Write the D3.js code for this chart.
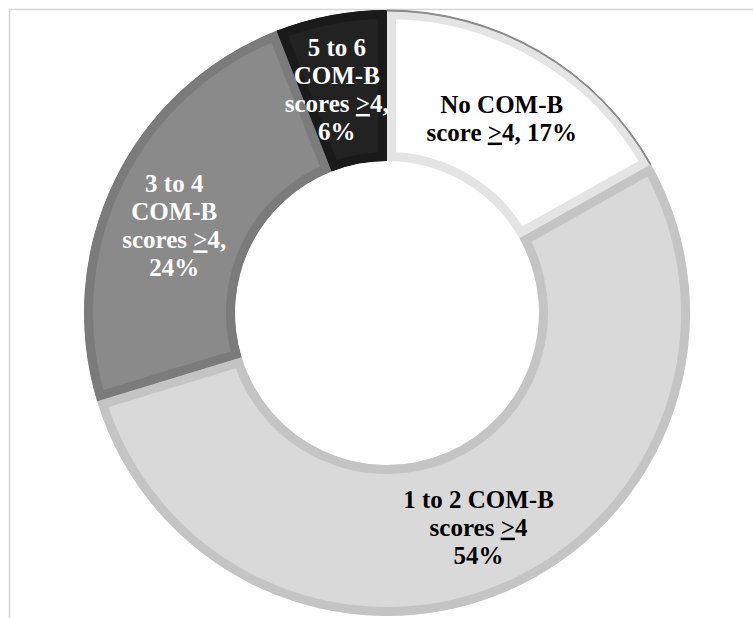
<!DOCTYPE html>
<html>
<head>
<meta charset="utf-8">
<script src="https://cdn.jsdelivr.net/npm/d3@7"></script>
<style>
  body { margin: 0; background: #fff; }
  svg { display: block; }
</style>
</head>
<body>
<script>
var width = 753, height = 618;

// data
var categories = ["No COM-B score >=4", "1 to 2 COM-B scores >=4", "3 to 4 COM-B scores >=4", "5 to 6 COM-B scores >=4"];
var values = [17, 54, 24, 6];
var labelLines = [
	["No COM-B", "score ≥4, 17%"],
	["1 to 2 COM-B", "scores ≥4", "54%"],
	["3 to 4", "COM-B", "scores ≥4,", "24%"],
	["5 to 6", "COM-B", "scores ≥4,", "6%"]
];

// styles
var fills = ["#ffffff", "#d9d9d9", "#8a8a8a", "#222222"];
var bands = ["#e4e4e4", "#c4c4c4", "#7b7b7b", "#1a1a1a"];
var textColors = ["#000", "#000", "#fff", "#fff"];
// small label nudges (px) where the picture differs from the centroid
var nudge = [[0, 1.5], [2, 5], [-8, 12], [-8, 0]];

var cx = 387, cy = 313;
var outerR = 303, innerR = 152;
var lineH = 28;
var serif = "'Liberation Serif', 'Times New Roman', Times, serif";

var svg = d3.select("body").append("svg")
	.attr("width", width)
	.attr("height", height);

// frame (only left and top edges are inside the picture)
svg.append("rect")
	.attr("x", 9.5).attr("y", 9.5)
	.attr("width", 900).attr("height", 800)
	.style("fill", "none")
	.style("stroke", "#d4d4d4")
	.style("stroke-width", 1.5);

var pie = d3.pie().sort(null).value(function(d) { return d; });
var arc = d3.arc().innerRadius(innerR).outerRadius(outerR);
var arcs = pie(values);

var g = svg.append("g").attr("transform", "translate(" + cx + "," + cy + ")");

var defs = svg.append("defs");
defs.selectAll("clipPath")
	.data(arcs)
	.enter()
	.append("clipPath")
	.attr("id", function(d, i) { return "clip" + i; })
	.append("path")
	.attr("d", arc);

// each slice gets an inside band (stroke clipped to its own shape)
g.selectAll("path.slice")
	.data(arcs)
	.enter()
	.append("path")
	.attr("class", "slice")
	.attr("d", arc)
	.attr("clip-path", function(d, i) { return "url(#clip" + i + ")"; })
	.style("fill", function(d, i) { return fills[i]; })
	.style("stroke", function(d, i) { return bands[i]; })
	.style("stroke-width", 18);

// darker rim along the outer edge of the white slice
var rim = d3.arc().innerRadius(outerR - 1).outerRadius(outerR);
g.append("path")
	.attr("d", rim(arcs[0]))
	.style("fill", "#8a8a8a")
	.style("stroke", "#8a8a8a")
	.style("stroke-width", 1);

// labels
arcs.forEach(function(d, i) {
	var c = arc.centroid(d);
	var lx = c[0] + nudge[i][0];
	var ly = c[1] + nudge[i][1];
	var lines = labelLines[i];
	var t = g.append("text")
		.attr("text-anchor", "middle")
		.attr("font-family", serif)
		.attr("font-weight", "bold")
		.attr("font-size", 25)
		.style("fill", textColors[i]);
	lines.forEach(function(line, k) {
		var y = ly + (k - (lines.length - 1) / 2) * lineH + 8.5;
		var parts = line.split("≥");
		t.append("tspan").attr("x", lx).attr("y", y).text(parts[0]);
		if (parts.length > 1) {
			t.append("tspan").style("text-decoration", "underline").text(">");
			t.append("tspan").text(parts[1]);
		}
	});
});
</script>
</body>
</html>
